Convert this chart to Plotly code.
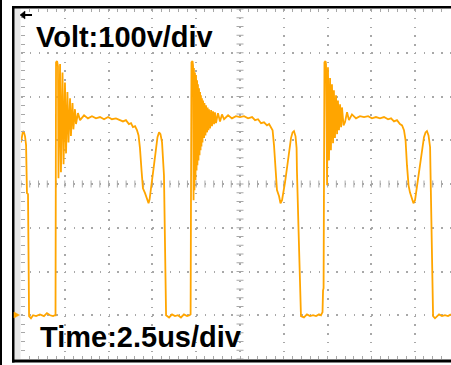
import numpy as np
import plotly.graph_objects as go

# ---- waveform data (time in us, voltage in V) ----
c0_t = [0.00, 0.06, 0.11, 0.17, 0.23, 0.29, 0.31, 0.34, 0.40, 0.43, 0.46, 0.57, 0.69, 0.86, 1.08, 1.31, 1.48, 1.66, 1.83, 1.94]
c0_v = [395, 416, 421, 418, 409, 389, 343, 279, 277, 126, -2, -7, 0, -2, 2, -2, 5, 0, -2, 0]

c1_t = [1.97, 2.00, 2.06, 2.11, 2.14, 2.23, 2.28, 2.37, 2.43, 2.51, 2.57, 2.65, 2.71, 2.80, 2.85, 2.94,
        2.99, 3.08, 3.14, 3.25, 3.37, 3.60, 3.82, 4.05, 4.28, 4.51, 4.74, 4.97, 5.19, 5.42, 5.65, 5.82, 5.99,
        6.16, 6.28, 6.39, 6.51, 6.62, 6.71, 6.79, 6.88, 6.96, 7.08, 7.19, 7.28, 7.34, 7.39, 7.48, 7.59, 7.71, 7.79, 7.88, 7.96,
        8.05, 8.11, 8.16, 8.28, 8.45, 8.62, 8.79, 8.96, 9.13, 9.30, 9.48, 9.62]
c1_v = [0, 578, 581, 569, 313, 574, 327, 555, 345, 532, 370, 510, 395, 496, 410, 485,
        425, 471, 437, 462, 446, 457, 450, 455, 450, 453, 448, 453, 448, 450, 446, 443, 446, 437,
        439, 430, 432, 423, 411, 382, 331, 290, 279, 263, 256, 265, 286, 309, 343, 382, 407, 418, 414, 395,
        359, 320, 0, -5, 2, -2, 0, -5, 2, -2, 0, 2]

c2_t = [9.65, 9.68, 9.73, 9.79, 9.82, 9.85, 9.87, 9.90, 9.93, 9.96, 9.99, 10.02, 10.05, 10.07, 10.10, 10.13, 10.16, 10.19,
        10.22, 10.25, 10.27, 10.30, 10.33, 10.36, 10.39, 10.45, 10.47, 10.53, 10.56, 10.62, 10.65, 10.70, 10.73, 10.79,
        10.85, 10.90, 10.96, 11.02, 11.07, 11.13, 11.24, 11.36, 11.47, 11.59, 11.82, 12.04, 12.27, 12.50, 12.73, 12.96,
        13.19, 13.36, 13.53, 13.70, 13.87, 14.04, 14.16, 14.27, 14.36, 14.44, 14.53, 14.61, 14.73, 14.81, 14.90, 14.98,
        15.07, 15.18, 15.30, 15.41, 15.50, 15.58, 15.67, 15.73, 15.75, 15.81, 15.84, 15.98, 16.15, 16.32, 16.50, 16.67,
        16.84, 17.01, 17.12, 17.18, 17.21, 17.24]
c2_v = [2, 578, 581, 571, 263, 565, 286, 555, 309, 549, 331, 537, 343, 528, 354, 519, 366, 510,
        377, 503, 386, 496, 395, 491, 405, 485, 411, 480, 418, 475, 423, 471, 427, 469,
        432, 466, 437, 464, 439, 462, 443, 459, 448, 457, 450, 455, 453, 455, 450, 453,
        446, 448, 439, 441, 434, 437, 430, 423, 389, 331, 286, 272, 256, 263, 281, 304,
        336, 377, 405, 418, 421, 409, 382, 331, 199, 197, -2, -5, 2, -2, 0, -2,
        2, 0, 5, 7, 57, 62]

c3_t = [17.27, 17.32, 17.38, 17.41, 17.47, 17.52, 17.58, 17.64, 17.69, 17.75, 17.81, 17.86, 17.92,
        17.98, 18.04, 18.09, 18.15, 18.21, 18.27, 18.32, 18.41, 18.49, 18.61, 18.72, 18.89, 19.12, 19.35, 19.58, 19.81,
        20.03, 20.26, 20.49, 20.72, 20.95, 21.12, 21.29, 21.46, 21.63, 21.75, 21.86, 21.95, 22.03, 22.12, 22.20, 22.32,
        22.40, 22.49, 22.57, 22.66, 22.77, 22.89, 23.00, 23.09, 23.17, 23.26, 23.35, 23.37, 23.40, 23.52, 23.63, 23.86,
        24.03, 24.20, 24.37, 24.54]
c3_v = [578, 581, 574, 297, 567, 354, 542, 377, 528, 393, 514, 405, 503,
        414, 491, 423, 482, 430, 475, 434, 441, 464, 446, 459, 450, 455, 453, 455, 450,
        453, 450, 453, 448, 450, 443, 446, 437, 434, 423, 400, 343, 297, 281, 267, 256,
        263, 286, 313, 350, 384, 407, 418, 421, 411, 384, 336, 263, -2, -7, 2, -2,
        0, -2, 2, -2]

volt_label = "Volt:100v/div"
time_label = "Time:2.5us/div"

t = c0_t + c1_t + c2_t + c3_t
v = c0_v + c1_v + c2_v + c3_v

X0, X1 = 0.0, 24.543
Y0, Y1 = -100.0, 700.0
GRID = "#a8a8a8"
ORANGE = "#FFA500"

fig = go.Figure()

# center-axis tick marks (screen graticule decoration)
cx = np.arange(0.0, 24.5, 0.5)
cy = np.arange(-100.0, 701.0, 20.0)
fig.add_trace(go.Scatter(x=cx, y=[300.0] * len(cx), mode="markers", hoverinfo="skip",
                         marker=dict(symbol="line-ns", size=5, line=dict(color=GRID, width=1)),
                         showlegend=False))
fig.add_trace(go.Scatter(x=[12.5] * len(cy), y=cy, mode="markers", hoverinfo="skip",
                         marker=dict(symbol="line-ew", size=5, line=dict(color=GRID, width=1)),
                         showlegend=False))

# waveform
fig.add_trace(go.Scatter(x=t, y=v, mode="lines", line=dict(color=ORANGE, width=1.8),
                         showlegend=False))

W, H = 451, 365
L, T_, B = 21, 9, 6
pw, ph = W - L, H - T_ - B


def px(xp):
    return (xp - L) / pw


def py(yp):
    return (H - B - yp) / ph


shapes = []
shapes.append(dict(type="rect", xref="paper", yref="paper", x0=px(0), x1=px(2), y0=py(365), y1=py(0),
                   fillcolor="black", line=dict(width=0), layer="above"))
shapes.append(dict(type="rect", xref="paper", yref="paper", x0=px(14.5), x1=px(20.5), y0=py(359), y1=py(8),
                   fillcolor="#e8e8e8", line=dict(width=0), layer="below"))
shapes.append(dict(type="rect", xref="paper", yref="paper", x0=px(12), x1=px(14.5), y0=py(362.5), y1=py(6),
                   fillcolor="black", line=dict(width=0), layer="above"))
shapes.append(dict(type="rect", xref="paper", yref="paper", x0=px(12), x1=px(451), y0=py(8.5), y1=py(6),
                   fillcolor="black", line=dict(width=0), layer="above"))
shapes.append(dict(type="rect", xref="paper", yref="paper", x0=px(12), x1=px(451), y0=py(362.5), y1=py(359.5),
                   fillcolor="black", line=dict(width=0), layer="above"))
shapes.append(dict(type="line", xref="paper", yref="paper", x0=px(23), x1=px(32), y0=py(15), y1=py(15),
                   line=dict(color="black", width=2), layer="above"))
shapes.append(dict(type="path", xref="paper", yref="paper",
                   path=f"M {px(20)},{py(15)} L {px(25)},{py(11)} L {px(25)},{py(19)} Z",
                   fillcolor="black", line=dict(color="black", width=0.5), layer="above"))
shapes.append(dict(type="path", xref="paper", yref="paper",
                   path=f"M {px(14)},{py(312)} L {px(19.5)},{py(315)} L {px(14)},{py(318)} Z",
                   fillcolor=ORANGE, line=dict(color=ORANGE, width=0.5), layer="above"))

font = dict(family="Liberation Sans, Arial, sans-serif", size=29, color="black", weight="bold")
annotations = [
    dict(text="<b>" + volt_label + "</b>", xref="paper", yref="paper", x=px(34), y=py(37), xanchor="left",
         yanchor="middle", showarrow=False, font=font),
    dict(text="<b>" + time_label + "</b>", xref="paper", yref="paper", x=px(38), y=py(336.5), xanchor="left",
         yanchor="middle", showarrow=False, font=font),
]

fig.update_layout(
    width=W, height=H,
    margin=dict(l=L, r=0, t=T_, b=B, pad=0),
    paper_bgcolor="white", plot_bgcolor="white",
    shapes=shapes, annotations=annotations,
    xaxis=dict(range=[X0, X1], dtick=2.5, tick0=0, showticklabels=False, zeroline=False,
               showgrid=True, gridcolor=GRID, gridwidth=1.5, griddash="1.5px,7.26px",
               ticks="inside", ticklen=3, tickcolor=GRID, tickwidth=1, mirror="ticks", showline=False,
               minor=dict(dtick=0.5, tick0=0, ticks="inside", ticklen=3, tickcolor=GRID, tickwidth=1, showgrid=False),
               fixedrange=True),
    yaxis=dict(range=[Y0, Y1], dtick=100, tick0=0, showticklabels=False, zeroline=False,
               showgrid=True, gridcolor=GRID, gridwidth=1.5, griddash="1.5px,7.25px",
               ticks="inside", ticklen=4, tickcolor=GRID, tickwidth=1, showline=False,
               minor=dict(dtick=20, tick0=0, ticks="inside", ticklen=4, tickcolor=GRID, tickwidth=1, showgrid=False),
               fixedrange=True),
)

fig.write_html("out.html", config={"displayModeBar": False},
               post_script="document.body.style.margin='0';document.body.style.overflow='hidden';")
